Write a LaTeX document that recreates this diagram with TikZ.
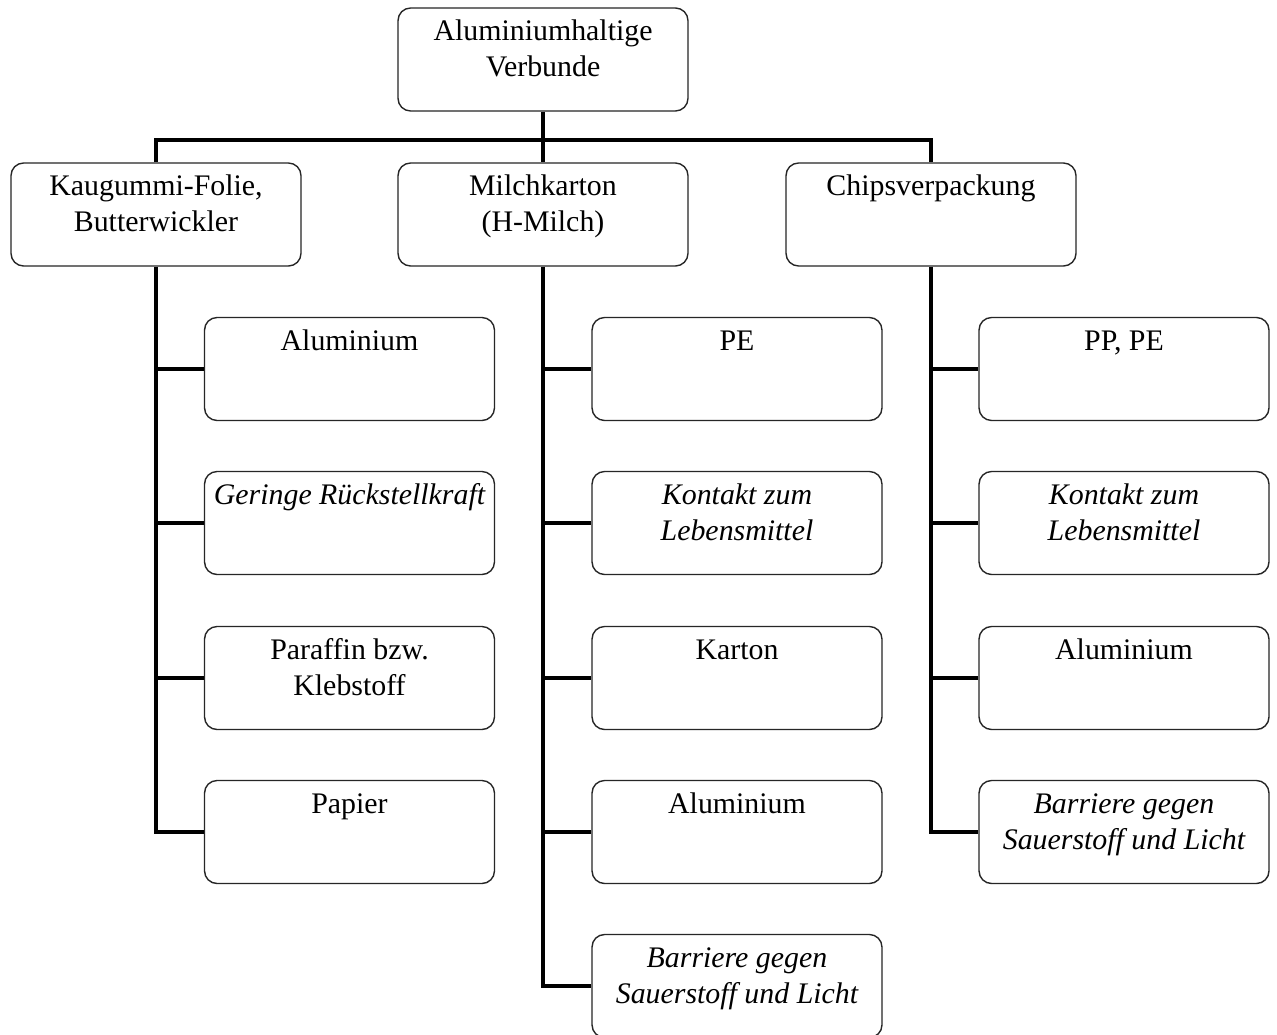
\documentclass[tikz,border=0pt]{standalone}
\usepackage{fontspec}
\setmainfont{Liberation Serif}
\newcommand\entry[4][]{%
  \node[box] (#2) at (#3) {};
  \node[lbl,#1] (#2-t) at ([yshift=-0.67cm]#2.north)
    {\begin{tabular}[t]{@{}c@{}}#4\end{tabular}};}
\begin{document}
\begin{tikzpicture}[x=0.02cm,y=-0.02cm,
  box/.style={draw=black!85, line width=0.8pt, rounded corners=0.25cm,
    minimum width=5.8cm, minimum height=2.06cm, inner sep=0pt, fill=white},
  lbl/.style={anchor=base, inner sep=0pt, font=\fontsize{17}{20.5}\selectfont},
  it/.style={font=\fontsize{17}{20.5}\selectfont\itshape},
  conn/.style={line width=2.8pt, line join=miter}]
\useasboundingbox[fill=white] (0,0) rectangle (1277,1034);

% root and first level
\entry{root}{543,59.5}{Aluminiumhaltige\\Verbunde}
\entry{ka}{156,214.5}{Kaugummi-Folie,\\Butterwickler}
\entry{mk}{543,214.5}{Milchkarton\\(H-Milch)}
\entry{cp}{931,214.5}{Chipsverpackung}

% Kaugummi-Folie column
\entry{a1}{349.5,369}{Aluminium}
\entry[it]{a2}{349.5,523}{Geringe Rückstellkraft}
\entry{a3}{349.5,678}{Paraffin bzw.\\Klebstoff}
\entry{a4}{349.5,832}{Papier}

% Milchkarton column
\entry{b1}{737,369}{PE}
\entry[it]{b2}{737,523}{Kontakt zum\\Lebensmittel}
\entry{b3}{737,678}{Karton}
\entry{b4}{737,832}{Aluminium}
\entry[it]{b5}{737,986}{Barriere gegen\\Sauerstoff und Licht}

% Chipsverpackung column
\entry{c1}{1124,369}{PP, PE}
\entry[it]{c2}{1124,523}{Kontakt zum\\Lebensmittel}
\entry{c3}{1124,678}{Aluminium}
\entry[it]{c4}{1124,832}{Barriere gegen\\Sauerstoff und Licht}

% connectors
\coordinate (bar) at (543,140);
\draw[conn] (root.south) -- (mk.north);
\draw[conn] (ka.north) |- (bar) -| (cp.north);

\draw[conn] (ka.south) |- (a4.west);
\foreach \n in {a1,a2,a3} \draw[conn] (ka.south |- \n.west) -- (\n.west);

\draw[conn] (mk.south) |- (b5.west);
\foreach \n in {b1,b2,b3,b4} \draw[conn] (mk.south |- \n.west) -- (\n.west);

\draw[conn] (cp.south) |- (c4.west);
\foreach \n in {c1,c2,c3} \draw[conn] (cp.south |- \n.west) -- (\n.west);
\end{tikzpicture}
\end{document}
